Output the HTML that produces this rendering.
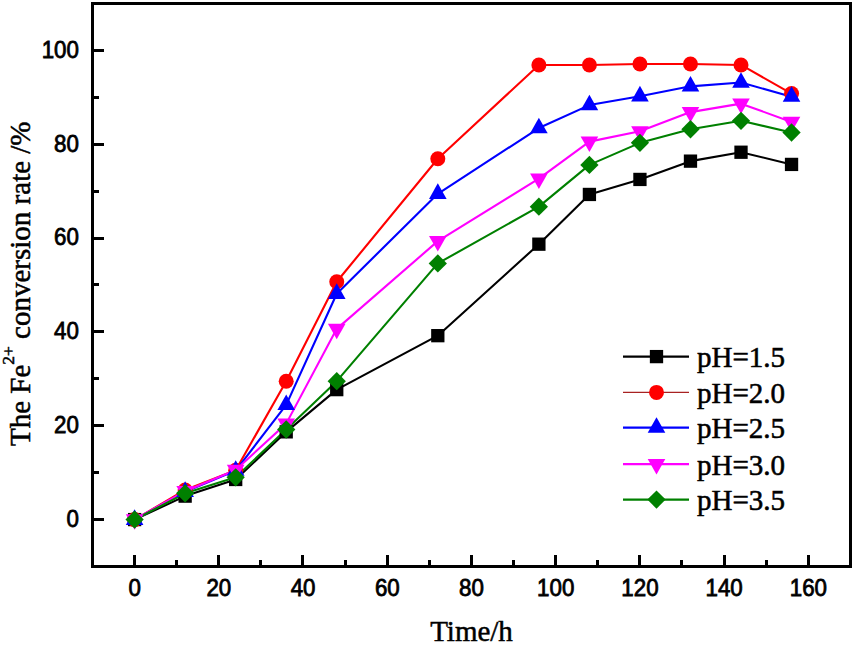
<!DOCTYPE html>
<html><head><meta charset="utf-8"><style>
html,body{margin:0;padding:0;background:#fff;}
body{width:854px;height:650px;overflow:hidden;}
svg{display:block;}
.tl{font-family:"Liberation Sans",sans-serif;font-size:23.5px;fill:#000;stroke:#000;stroke-width:0.8px;}
.lg{font-family:"Liberation Serif",serif;font-size:29px;fill:#000;stroke:#000;stroke-width:0.55px;}
.ti{font-family:"Liberation Serif",serif;font-size:29px;fill:#000;stroke:#000;stroke-width:0.5px;}
</style></head><body>
<svg width="854" height="650" viewBox="0 0 854 650">
<rect width="854" height="650" fill="#fff"/>
<rect x="92.5" y="3.5" width="758" height="563" fill="none" stroke="#000" stroke-width="3"/>
<line x1="134.50" y1="565" x2="134.50" y2="555" stroke="#000" stroke-width="3"/>
<line x1="176.50" y1="565" x2="176.50" y2="560" stroke="#000" stroke-width="3"/>
<line x1="218.50" y1="565" x2="218.50" y2="555" stroke="#000" stroke-width="3"/>
<line x1="260.50" y1="565" x2="260.50" y2="560" stroke="#000" stroke-width="3"/>
<line x1="302.50" y1="565" x2="302.50" y2="555" stroke="#000" stroke-width="3"/>
<line x1="345.50" y1="565" x2="345.50" y2="560" stroke="#000" stroke-width="3"/>
<line x1="387.50" y1="565" x2="387.50" y2="555" stroke="#000" stroke-width="3"/>
<line x1="429.50" y1="565" x2="429.50" y2="560" stroke="#000" stroke-width="3"/>
<line x1="471.50" y1="565" x2="471.50" y2="555" stroke="#000" stroke-width="3"/>
<line x1="513.50" y1="565" x2="513.50" y2="560" stroke="#000" stroke-width="3"/>
<line x1="555.50" y1="565" x2="555.50" y2="555" stroke="#000" stroke-width="3"/>
<line x1="597.50" y1="565" x2="597.50" y2="560" stroke="#000" stroke-width="3"/>
<line x1="639.50" y1="565" x2="639.50" y2="555" stroke="#000" stroke-width="3"/>
<line x1="681.50" y1="565" x2="681.50" y2="560" stroke="#000" stroke-width="3"/>
<line x1="724.50" y1="565" x2="724.50" y2="555" stroke="#000" stroke-width="3"/>
<line x1="766.50" y1="565" x2="766.50" y2="560" stroke="#000" stroke-width="3"/>
<line x1="808.50" y1="565" x2="808.50" y2="555" stroke="#000" stroke-width="3"/>
<line x1="94" y1="519.50" x2="104" y2="519.50" stroke="#000" stroke-width="3"/>
<line x1="94" y1="472.50" x2="99" y2="472.50" stroke="#000" stroke-width="3"/>
<line x1="94" y1="425.50" x2="104" y2="425.50" stroke="#000" stroke-width="3"/>
<line x1="94" y1="378.50" x2="99" y2="378.50" stroke="#000" stroke-width="3"/>
<line x1="94" y1="331.50" x2="104" y2="331.50" stroke="#000" stroke-width="3"/>
<line x1="94" y1="284.50" x2="99" y2="284.50" stroke="#000" stroke-width="3"/>
<line x1="94" y1="238.50" x2="104" y2="238.50" stroke="#000" stroke-width="3"/>
<line x1="94" y1="191.50" x2="99" y2="191.50" stroke="#000" stroke-width="3"/>
<line x1="94" y1="144.50" x2="104" y2="144.50" stroke="#000" stroke-width="3"/>
<line x1="94" y1="97.50" x2="99" y2="97.50" stroke="#000" stroke-width="3"/>
<line x1="94" y1="50.50" x2="104" y2="50.50" stroke="#000" stroke-width="3"/>
<text transform="translate(134.61,596) scale(0.95,1)" text-anchor="middle" class="tl">0</text>
<text transform="translate(218.83,596) scale(0.95,1)" text-anchor="middle" class="tl">20</text>
<text transform="translate(303.06,596) scale(0.95,1)" text-anchor="middle" class="tl">40</text>
<text transform="translate(387.28,596) scale(0.95,1)" text-anchor="middle" class="tl">60</text>
<text transform="translate(471.50,596) scale(0.95,1)" text-anchor="middle" class="tl">80</text>
<text transform="translate(555.72,596) scale(0.95,1)" text-anchor="middle" class="tl">100</text>
<text transform="translate(639.94,596) scale(0.95,1)" text-anchor="middle" class="tl">120</text>
<text transform="translate(724.17,596) scale(0.95,1)" text-anchor="middle" class="tl">140</text>
<text transform="translate(808.39,596) scale(0.95,1)" text-anchor="middle" class="tl">160</text>
<text transform="translate(78.9,526.88) scale(0.95,1)" text-anchor="end" class="tl">0</text>
<text transform="translate(78.9,433.05) scale(0.95,1)" text-anchor="end" class="tl">20</text>
<text transform="translate(78.9,339.22) scale(0.95,1)" text-anchor="end" class="tl">40</text>
<text transform="translate(78.9,245.38) scale(0.95,1)" text-anchor="end" class="tl">60</text>
<text transform="translate(78.9,151.55) scale(0.95,1)" text-anchor="end" class="tl">80</text>
<text transform="translate(78.9,57.72) scale(0.95,1)" text-anchor="end" class="tl">100</text>
<polyline points="134.61,519.58 185.14,496.12 235.68,479.47 286.21,431.85 336.74,389.62 437.81,335.67 538.88,244.18 589.41,194.45 639.94,179.44 690.48,161.14 741.01,152.23 791.54,164.42" fill="none" stroke="#000000" stroke-width="2.1" stroke-linejoin="round"/>
<polyline points="134.61,519.58 185.14,490.03 235.68,470.32 286.21,381.18 336.74,281.72 437.81,158.79 538.88,64.96 589.41,64.96 639.94,64.02 690.48,64.02 741.01,64.96 791.54,93.58" fill="none" stroke="#ff0000" stroke-width="2.1" stroke-linejoin="round"/>
<polyline points="134.61,519.70 185.14,491.69 235.68,470.58 286.21,404.89 336.74,293.70 437.81,193.77 538.88,128.08 589.41,105.09 639.94,96.18 690.48,86.33 741.01,82.57 791.54,96.65" fill="none" stroke="#0000ff" stroke-width="2.1" stroke-linejoin="round"/>
<polyline points="134.61,519.47 185.14,491.18 235.68,469.93 286.21,423.62 336.74,328.85 437.81,241.11 538.88,178.71 589.41,141.65 639.94,131.33 690.48,112.09 741.01,103.65 791.54,121.95" fill="none" stroke="#ff00ff" stroke-width="2.1" stroke-linejoin="round"/>
<polyline points="134.61,519.58 185.14,493.31 235.68,477.36 286.21,429.50 336.74,381.18 437.81,263.42 538.88,206.65 589.41,164.89 639.94,142.84 690.48,129.24 741.01,120.79 791.54,132.52" fill="none" stroke="#008000" stroke-width="2.1" stroke-linejoin="round"/>
<rect x="127.96" y="512.93" width="13.30" height="13.30" fill="#000000"/>
<rect x="178.49" y="489.48" width="13.30" height="13.30" fill="#000000"/>
<rect x="229.03" y="472.82" width="13.30" height="13.30" fill="#000000"/>
<rect x="279.56" y="425.20" width="13.30" height="13.30" fill="#000000"/>
<rect x="330.09" y="382.97" width="13.30" height="13.30" fill="#000000"/>
<rect x="431.16" y="329.02" width="13.30" height="13.30" fill="#000000"/>
<rect x="532.23" y="237.53" width="13.30" height="13.30" fill="#000000"/>
<rect x="582.76" y="187.80" width="13.30" height="13.30" fill="#000000"/>
<rect x="633.29" y="172.79" width="13.30" height="13.30" fill="#000000"/>
<rect x="683.83" y="154.49" width="13.30" height="13.30" fill="#000000"/>
<rect x="734.36" y="145.58" width="13.30" height="13.30" fill="#000000"/>
<rect x="784.89" y="157.77" width="13.30" height="13.30" fill="#000000"/>
<circle cx="134.61" cy="519.58" r="7.50" fill="#ff0000"/>
<circle cx="185.14" cy="490.03" r="7.50" fill="#ff0000"/>
<circle cx="235.68" cy="470.32" r="7.50" fill="#ff0000"/>
<circle cx="286.21" cy="381.18" r="7.50" fill="#ff0000"/>
<circle cx="336.74" cy="281.72" r="7.50" fill="#ff0000"/>
<circle cx="437.81" cy="158.79" r="7.50" fill="#ff0000"/>
<circle cx="538.88" cy="64.96" r="7.50" fill="#ff0000"/>
<circle cx="589.41" cy="64.96" r="7.50" fill="#ff0000"/>
<circle cx="639.94" cy="64.02" r="7.50" fill="#ff0000"/>
<circle cx="690.48" cy="64.02" r="7.50" fill="#ff0000"/>
<circle cx="741.01" cy="64.96" r="7.50" fill="#ff0000"/>
<circle cx="791.54" cy="93.58" r="7.50" fill="#ff0000"/>
<polygon points="125.81,524.90 143.41,524.90 134.61,509.30" fill="#0000ff"/>
<polygon points="176.34,496.89 193.94,496.89 185.14,481.29" fill="#0000ff"/>
<polygon points="226.88,475.78 244.48,475.78 235.68,460.18" fill="#0000ff"/>
<polygon points="277.41,410.09 295.01,410.09 286.21,394.49" fill="#0000ff"/>
<polygon points="327.94,298.90 345.54,298.90 336.74,283.30" fill="#0000ff"/>
<polygon points="429.01,198.97 446.61,198.97 437.81,183.37" fill="#0000ff"/>
<polygon points="530.08,133.28 547.68,133.28 538.88,117.68" fill="#0000ff"/>
<polygon points="580.61,110.29 598.21,110.29 589.41,94.69" fill="#0000ff"/>
<polygon points="631.14,101.38 648.74,101.38 639.94,85.78" fill="#0000ff"/>
<polygon points="681.68,91.53 699.28,91.53 690.48,75.93" fill="#0000ff"/>
<polygon points="732.21,87.77 749.81,87.77 741.01,72.17" fill="#0000ff"/>
<polygon points="782.74,101.85 800.34,101.85 791.54,86.25" fill="#0000ff"/>
<polygon points="125.81,514.27 143.41,514.27 134.61,529.87" fill="#ff00ff"/>
<polygon points="176.34,485.98 193.94,485.98 185.14,501.58" fill="#ff00ff"/>
<polygon points="226.88,464.73 244.48,464.73 235.68,480.33" fill="#ff00ff"/>
<polygon points="277.41,418.42 295.01,418.42 286.21,434.02" fill="#ff00ff"/>
<polygon points="327.94,323.65 345.54,323.65 336.74,339.25" fill="#ff00ff"/>
<polygon points="429.01,235.91 446.61,235.91 437.81,251.51" fill="#ff00ff"/>
<polygon points="530.08,173.51 547.68,173.51 538.88,189.11" fill="#ff00ff"/>
<polygon points="580.61,136.45 598.21,136.45 589.41,152.05" fill="#ff00ff"/>
<polygon points="631.14,126.13 648.74,126.13 639.94,141.73" fill="#ff00ff"/>
<polygon points="681.68,106.89 699.28,106.89 690.48,122.49" fill="#ff00ff"/>
<polygon points="732.21,98.45 749.81,98.45 741.01,114.05" fill="#ff00ff"/>
<polygon points="782.74,116.75 800.34,116.75 791.54,132.35" fill="#ff00ff"/>
<polygon points="134.61,510.43 143.76,519.58 134.61,528.73 125.46,519.58" fill="#008000"/>
<polygon points="185.14,484.16 194.29,493.31 185.14,502.46 175.99,493.31" fill="#008000"/>
<polygon points="235.68,468.21 244.83,477.36 235.68,486.51 226.53,477.36" fill="#008000"/>
<polygon points="286.21,420.35 295.36,429.50 286.21,438.65 277.06,429.50" fill="#008000"/>
<polygon points="336.74,372.03 345.89,381.18 336.74,390.33 327.59,381.18" fill="#008000"/>
<polygon points="437.81,254.27 446.96,263.42 437.81,272.57 428.66,263.42" fill="#008000"/>
<polygon points="538.88,197.50 548.03,206.65 538.88,215.80 529.73,206.65" fill="#008000"/>
<polygon points="589.41,155.74 598.56,164.89 589.41,174.04 580.26,164.89" fill="#008000"/>
<polygon points="639.94,133.69 649.09,142.84 639.94,151.99 630.79,142.84" fill="#008000"/>
<polygon points="690.48,120.09 699.63,129.24 690.48,138.39 681.33,129.24" fill="#008000"/>
<polygon points="741.01,111.64 750.16,120.79 741.01,129.94 731.86,120.79" fill="#008000"/>
<polygon points="791.54,123.37 800.69,132.52 791.54,141.67 782.39,132.52" fill="#008000"/>
<line x1="623" y1="356.6" x2="689" y2="356.6" stroke="#000000" stroke-width="2.3"/>
<rect x="649.85" y="349.95" width="13.30" height="13.30" fill="#000000"/>
<line x1="623" y1="392.4" x2="689" y2="392.4" stroke="#a82222" stroke-width="1.4"/>
<circle cx="656.50" cy="392.40" r="7.50" fill="#ff0000"/>
<line x1="623" y1="427.6" x2="689" y2="427.6" stroke="#0000ff" stroke-width="2.3"/>
<polygon points="647.70,432.80 665.30,432.80 656.50,417.20" fill="#0000ff"/>
<line x1="623" y1="464.1" x2="689" y2="464.1" stroke="#ff00ff" stroke-width="2.3"/>
<polygon points="647.70,458.90 665.30,458.90 656.50,474.50" fill="#ff00ff"/>
<line x1="623" y1="499.6" x2="689" y2="499.6" stroke="#008000" stroke-width="2.3"/>
<polygon points="656.50,490.45 665.65,499.60 656.50,508.75 647.35,499.60" fill="#008000"/>
<text x="697" y="367.0" class="lg">pH=1.5</text>
<text x="697" y="402.8" class="lg">pH=2.0</text>
<text x="697" y="438.0" class="lg">pH=2.5</text>
<text x="697" y="474.5" class="lg">pH=3.0</text>
<text x="697" y="510.0" class="lg">pH=3.5</text>
<text x="471.5" y="641" text-anchor="middle" class="ti" font-size="29.6">Time/h</text>
<text transform="translate(30,446) rotate(-90)" class="ti">The Fe<tspan dy="-16" font-size="17.4">2+</tspan><tspan dy="16"> conversion rate /%</tspan></text>
</svg>
</body></html>
